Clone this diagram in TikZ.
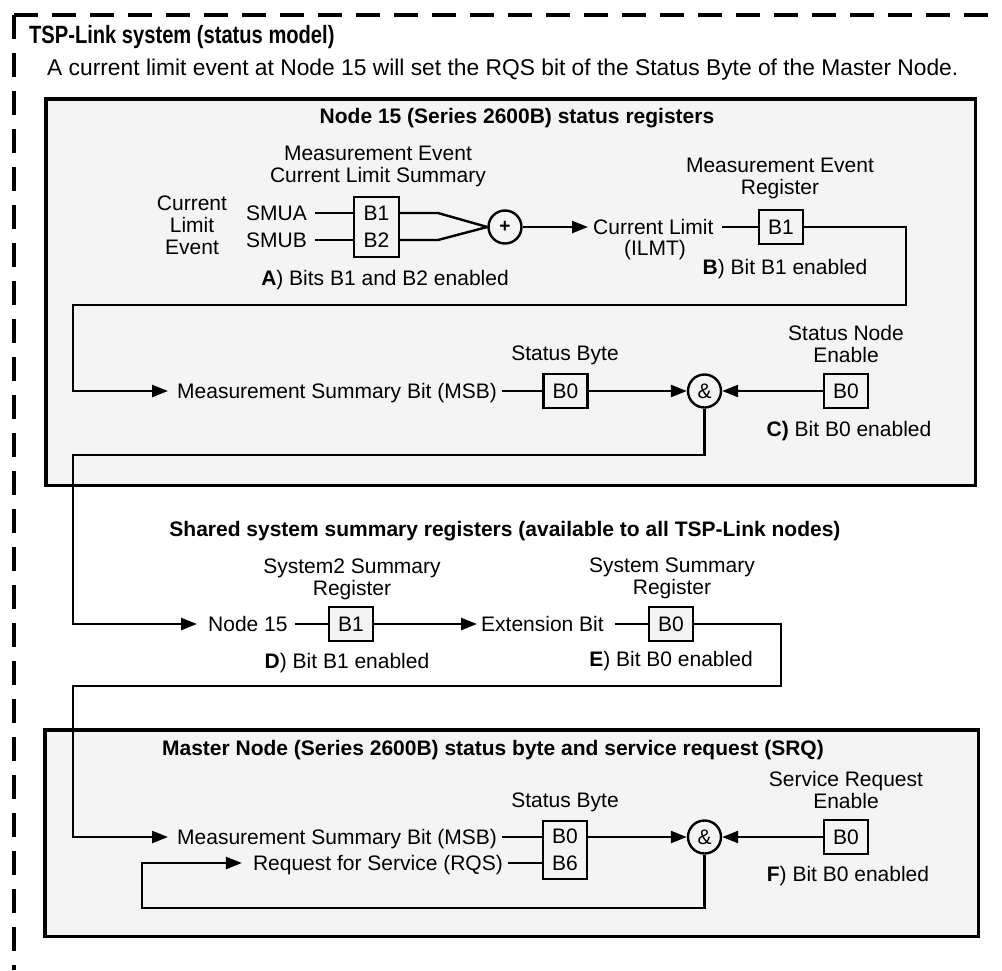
\documentclass[tikz,border=0pt]{standalone}
\usepackage{fontspec}
\setmainfont{Liberation Sans}
\usetikzlibrary{arrows.meta}
\definecolor{panelgray}{HTML}{F4F4F4}
\begin{document}
\begin{tikzpicture}[x=1pt,y=-1pt,
  every node/.style={font=\fontsize{21}{22}\selectfont, inner sep=0pt},
  lbl/.style={text height=15pt, text depth=0pt},
  ml/.style={align=center},
  head/.style={lbl, font=\fontsize{21}{22}\selectfont\bfseries},
  panel/.style={draw, line width=3.5pt, fill=panelgray},
  reg/.style={draw, line width=2.4pt, minimum width=44pt, minimum height=34pt, fill=panelgray},
  reg2/.style={reg, minimum width=44.5pt, minimum height=59.5pt, align=center, font=\fontsize{21}{27}\selectfont},
  gate/.style={circle, draw, line width=2.4pt, minimum size=33pt, fill=panelgray},
  wire/.style={line width=2.4pt},
  arr/.style={wire, -{Triangle[length=16pt,width=12pt]}},
  dashborder/.style={line width=4pt, dash pattern=on 24pt off 14pt}
]
\useasboundingbox[fill=white] (0,0) rectangle (1002,970);

% outer dashed frame
\coordinate (corner) at (14,15);
\coordinate (tr) at (1002,15);
\coordinate (bl) at (14,970);
\draw[dashborder] (corner) -- (tr);
\draw[dashborder] (corner) -- (bl);

% title
\node[anchor=west, font=\fontsize{25}{26}\selectfont\bfseries] (title) at (29,37) {\scalebox{0.805}[1]{TSP-Link system (status model)}};
\node[lbl, anchor=west, font=\fontsize{22.8}{24}\selectfont] (subtitle) at (47,68) {A current limit event at Node 15 will set the RQS bit of the Status Byte of the Master Node.};

% panels
\node[panel, minimum width=929.5pt, minimum height=386.5pt] (p15) at (510.5,292) {};
\node[panel, minimum width=933.5pt, minimum height=206.5pt] (pm) at (511.5,833) {};

% ---------- Node 15 panel ----------
\node[head] (h15) at (517,116) {Node 15 (Series 2600B) status registers};

\node[ml] (cle) at (192,225) {Current\\Limit\\Event};
\node[lbl, anchor=east] (smua) at (307,213) {SMUA};
\node[lbl, anchor=east] (smub) at (307,240) {SMUB};
\node[reg2] (b12) at (376.5,227) {B1\\B2};
\node[ml] (mecls) at (378,166) {Measurement Event\\Current Limit Summary};
\node[lbl] (la) at (385,278) {\textbf{A}) Bits B1 and B2 enabled};
\node[gate] (or) at (505,227) {\fontsize{19}{19}\selectfont\bfseries +};

\node[lbl, anchor=west] (clim) at (593,227) {Current Limit};
\node[lbl] (ilmt) at (655,248) {(ILMT)};
\node[reg] (b1r) at (781,227) {B1};
\node[ml] (mer) at (780,178) {Measurement Event\\Register};
\node[lbl] (lb) at (785,267) {\textbf{B}) Bit B1 enabled};

\node[lbl, anchor=west] (msb1) at (177,391) {Measurement Summary Bit (MSB)};
\node[reg] (sb1) at (565.5,391) {B0};
\node[lbl] (sbt1) at (565,353) {Status Byte};
\node[gate] (and1) at (704.5,391) {\&};
\node[reg] (sne) at (846,391) {B0};
\node[ml] (snet) at (846,344) {Status Node\\Enable};
\node[lbl] (lc) at (849,429) {\textbf{C)} Bit B0 enabled};

% ---------- shared registers ----------
\node[head] (hsh) at (505,529) {Shared system summary registers (available to all TSP-Link nodes)};
\node[lbl, anchor=west] (n15) at (208,624) {Node 15};
\node[reg] (sys2) at (351,624) {B1};
\node[ml] (sys2t) at (352,579.5) {System2 Summary\\Register};
\node[lbl] (ld) at (347,661) {\textbf{D}) Bit B1 enabled};
\node[lbl, anchor=west] (ext) at (481,624) {Extension Bit};
\node[reg] (sysb0) at (671,624) {B0};
\node[ml] (syst) at (672,578) {System Summary\\Register};
\node[lbl] (le) at (671,659) {\textbf{E}) Bit B0 enabled};

% ---------- Master panel ----------
\node[head] (hm) at (493,748) {Master Node (Series 2600B) status byte and service request (SRQ)};
\node[lbl, anchor=west] (msb2) at (177,837) {Measurement Summary Bit (MSB)};
\node[lbl, anchor=east] (rqs) at (503,863) {Request for Service (RQS)};
\node[reg2, minimum height=58.5pt] (mb) at (565,850) {B0\\B6};
\node[lbl] (sbt2) at (565,800) {Status Byte};
\node[gate] (and2) at (704.5,837) {\&};
\node[reg] (sre) at (846,837) {B0};
\node[ml] (sret) at (846,790) {Service Request\\Enable};
\node[lbl] (lf) at (848,874) {\textbf{F}) Bit B0 enabled};

% routing coordinates
\coordinate (c1) at (906,305);
\coordinate (c2) at (73,305);
\coordinate (c3) at (73,455);
\coordinate (c4) at (781,686);
\coordinate (c5) at (73,686);
\coordinate (c6) at (142,908);

% ---------- connectors ----------
\draw[wire] ([xshift=8pt]smua.east) -- (smua.east -| b12.west);
\draw[wire] ([xshift=8pt]smub.east) -- (smub.east -| b12.west);
\draw[wire] (b12.east |- smua.east) -- ++(38,0) -- (or.west);
\draw[wire] (b12.east |- smub.east) -- ++(38,0) -- (or.west);
\draw[arr] (or.east) -- ([xshift=-5pt]clim.west);
\draw[wire] ([xshift=8pt]clim.east) -- (b1r.west);
\draw[arr] (b1r.east) -| (c1) -- (c2) |- ([xshift=-9pt]msb1.west);
\draw[wire] ([xshift=5pt]msb1.east) -- (sb1.west);
\draw[arr] (sb1.east) -- (and1.west);
\draw[arr] (sne.west) -- (and1.east);
\draw[arr] (and1.south) |- (c3) |- ([xshift=-11pt]n15.west);
\draw[wire] ([xshift=7pt]n15.east) -- (sys2.west);
\draw[arr] (sys2.east) -- ([xshift=-4pt]ext.west);
\draw[wire] ([xshift=11pt]ext.east) -- (sysb0.west);
\draw[arr] (sysb0.east) -| (c4) -- (c5) |- ([xshift=-9pt]msb2.west);
\draw[wire] ([xshift=5pt]msb2.east) -- (msb2.east -| mb.west);
\draw[wire] ([xshift=5pt]rqs.east) -- (rqs.east -| mb.west);
\draw[arr] (mb.east |- msb2.east) -- (and2.west);
\draw[arr] (sre.west) -- (and2.east);
\draw[arr] (and2.south) |- (c6) |- ([xshift=-11pt]rqs.west);
\end{tikzpicture}
\end{document}
